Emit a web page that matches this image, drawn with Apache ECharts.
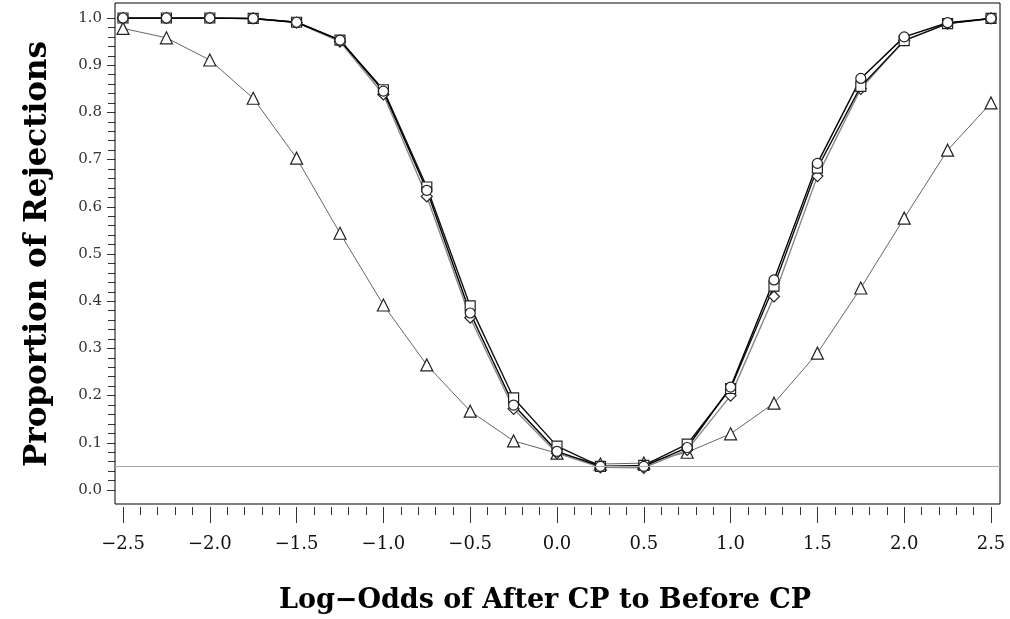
<!DOCTYPE html>
<html><head><meta charset="utf-8">
<script src="https://cdn.jsdelivr.net/npm/echarts@6/dist/echarts.min.js"></script>
<style>html,body{margin:0;padding:0;background:#fff}#c{width:1010px;height:619px}</style>
</head><body><div id="c"></div>
<script>
// Data
const logOdds = [-2.5,-2.25,-2.0,-1.75,-1.5,-1.25,-1.0,-0.75,-0.5,-0.25,0.0,0.25,0.5,0.75,1.0,1.25,1.5,1.75,2.0,2.25,2.5];
const circleSeries   = [1.000,1.000,1.000,0.999,0.991,0.953,0.845,0.635,0.375,0.180,0.082,0.050,0.050,0.090,0.218,0.445,0.692,0.872,0.960,0.990,0.999];
const squareSeries   = [1.000,1.000,1.000,0.999,0.991,0.953,0.848,0.642,0.390,0.195,0.093,0.050,0.052,0.097,0.215,0.432,0.682,0.855,0.952,0.988,0.999];
const diamondSeries  = [1.000,1.000,1.000,0.999,0.990,0.950,0.838,0.622,0.365,0.172,0.078,0.048,0.047,0.085,0.200,0.410,0.665,0.850,0.953,0.988,0.999];
const triangleSeries = [0.978,0.958,0.911,0.830,0.703,0.544,0.392,0.265,0.167,0.104,0.078,0.055,0.057,0.080,0.119,0.184,0.290,0.428,0.576,0.720,0.820];
const referenceLevel = 0.05;

const FONT = 'DejaVu Serif';
const pairs = ys => logOdds.map((x,i)=>[x, ys[i]]);
const fmt = v => (v < 0 ? '\u2212' : '') + Math.abs(v).toFixed(1);

function mk(name, ys, symbol, lineColor, lineWidth, size){
  return {
    name, type:'line', xAxisIndex:0, yAxisIndex:0, data:pairs(ys),
    symbol, symbolSize:size, showSymbol:true,
    lineStyle:{color:lineColor, width:lineWidth},
    itemStyle:{color:'#fff', borderColor:'#222', borderWidth:1.2},
    animation:false, z:3
  };
}

const chart = echarts.init(document.getElementById('c'), null, {renderer:'canvas'});
chart.setOption({
  animation:false,
  backgroundColor:'#fff',
  grid:[
    {left:123, right:19, top:18, bottom:129, show:false},
    {left:115, right:10, top:3, bottom:115, show:true, borderColor:'#000', borderWidth:1, backgroundColor:'transparent', z:1}
  ],
  xAxis:[
    {type:'value', gridIndex:0, min:-2.5, max:2.5, interval:0.5, position:'bottom', offset:17,
     axisLine:{show:false, onZero:false},
     axisTick:{show:true, inside:false, length:16, lineStyle:{color:'#333', width:1}},
     minorTick:{show:true, splitNumber:5, length:8, lineStyle:{color:'#333', width:1}},
     splitLine:{show:false}, minorSplitLine:{show:false},
     axisLabel:{formatter:fmt, fontFamily:FONT, fontSize:18, color:'#111', margin:28},
     name:'Log\u2212Odds of After CP to Before CP', nameLocation:'middle', nameGap:80,
     nameTextStyle:{fontFamily:FONT, fontWeight:'bold', fontSize:27, color:'#000', padding:[0,24,0,0]}},
    {type:'value', gridIndex:1, min:-2.546, max:2.552, show:false}
  ],
  yAxis:[
    {type:'value', gridIndex:0, min:0, max:1, interval:0.1, position:'left', offset:8,
     axisLine:{show:false, onZero:false},
     axisTick:{show:true, inside:false, length:8, lineStyle:{color:'#333', width:1}},
     minorTick:{show:true, splitNumber:5, length:7, lineStyle:{color:'#333', width:1}},
     splitLine:{show:false}, minorSplitLine:{show:false},
     axisLabel:{formatter:v=>v.toFixed(1), fontFamily:FONT, fontSize:15, color:'#333', margin:13},
     name:'Proportion of Rejections', nameLocation:'middle', nameGap:62, nameRotate:90,
     nameTextStyle:{fontFamily:FONT, fontWeight:'bold', fontSize:31, color:'#000'}},
    {type:'value', gridIndex:1, min:-0.0297, max:1.032, show:false}
  ],
  series:[
    {type:'line', xAxisIndex:1, yAxisIndex:1, data:[], silent:true,
     markLine:{symbol:'none', silent:true, label:{show:false},
       lineStyle:{color:'#aaa', type:'solid', width:1.2},
       data:[{yAxis:referenceLevel}]}, z:1},
    mk('triangle', triangleSeries, 'triangle', '#666', 1, 12),
    mk('diamond', diamondSeries, 'diamond', '#888', 1.4, 11),
    mk('square', squareSeries, 'rect', '#111', 1.4, 10),
    mk('circle', circleSeries, 'circle', '#000', 1.4, 10)
  ]
});
</script></body></html>
